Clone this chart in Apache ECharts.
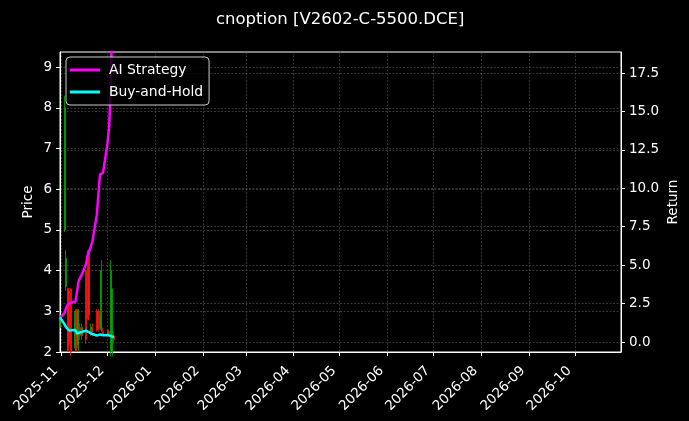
<!DOCTYPE html>
<html>
<head>
<meta charset="utf-8">
<script src="https://cdn.jsdelivr.net/npm/echarts@6/dist/echarts.min.js"></script>
<style>
  html, body { margin: 0; padding: 0; background: #000; }
  #chart { width: 689px; height: 421px; }
</style>
</head>
<body>
<div id="chart"></div>
<script>
// trading days shown on the chart
const dates = [
  '2025-10-31', '2025-11-03', '2025-11-04', '2025-11-05', '2025-11-06', '2025-11-07',
  '2025-11-10', '2025-11-11', '2025-11-12', '2025-11-13', '2025-11-14',
  '2025-11-17', '2025-11-18', '2025-11-19', '2025-11-20', '2025-11-21',
  '2025-11-24', '2025-11-25', '2025-11-26', '2025-11-27', '2025-11-28',
  '2025-12-01', '2025-12-02', '2025-12-03', '2025-12-04', '2025-12-05'
];
// option price candles
const openPrice  = [2.6, 5.0, 3.6, 3.55, 3.5, 3.55, 2.1, 3.05, 2.2, 2.6, 2.4, 4.0, 4.3, 4.5, 2.5, 2.6, 3.0, 3.0, 2.9, 2.55, 2.5, 2.45, 2.5, 2.0, 2.0, 2.4];
const closePrice = [2.9, 8.0, 4.3, 2.1, 2.2, 2.0, 3.0, 2.1, 3.0, 2.4, 2.6, 2.3, 2.8, 2.9, 2.6, 2.5, 2.55, 2.55, 2.6, 4.0, 2.45, 2.5, 2.45, 4.0, 3.55, 2.3];
const lowPrice   = [2.5, 4.95, 3.5, 2.0, 2.0, 1.9, 2.0, 2.0, 2.0, 2.3, 2.3, 2.2, 2.8, 2.8, 2.4, 2.4, 2.5, 2.5, 2.55, 2.5, 2.4, 2.4, 2.4, 1.9, 1.9, 2.2];
const highPrice  = [3.0, 8.3, 4.5, 3.57, 3.57, 3.57, 3.05, 3.05, 3.05, 2.7, 2.7, 4.0, 4.5, 4.5, 2.7, 2.7, 3.05, 3.05, 3.0, 4.26, 2.6, 2.55, 2.55, 4.26, 3.55, 2.5];
// cumulative returns
const aiStrategy = [1.55, 1.9, 2.2, 2.45, 2.5, 2.55, 2.62, 3.2, 3.9, 4.15, 4.35, 5.1, 5.65, 5.9, 6.0, 6.5, 8.3, 9.6, 10.9, 10.9, 11.0, 13.0, 14.0, 16.5, 21.0, 23.0];
const buyHold    = [1.6, 1.15, 0.95, 0.85, 0.75, 0.72, 0.78, 0.55, 0.6, 0.62, 0.66, 0.74, 0.7, 0.62, 0.6, 0.52, 0.42, 0.47, 0.5, 0.48, 0.44, 0.46, 0.44, 0.4, 0.36, 0.31];
// axis ticks
const monthTicks = ['2025-11', '2025-12', '2026-01', '2026-02', '2026-03', '2026-04',
  '2026-05', '2026-06', '2026-07', '2026-08', '2026-09', '2026-10'];
const priceTicks = [2, 3, 4, 5, 6, 7, 8, 9];
const returnTicks = [0, 2.5, 5, 7.5, 10, 12.5, 15, 17.5];

const FONT = 'DejaVu Sans';
const toTime = s => {
  const p = s.split('-').map(Number);
  return new Date(p[0], p[1] - 1, p[2] || 1).getTime();
};
const monthValues = monthTicks.map(toTime);
const gridLine = { show: true, lineStyle: { color: '#5a5a5a', width: 0.6, type: [2, 1.5] } };

const chart = echarts.init(document.getElementById('chart'));
chart.setOption({
  backgroundColor: '#000',
  animation: false,
  title: {
    text: 'cnoption [V2602-C-5500.DCE]',
    left: 211,
    top: 6,
    textStyle: { color: '#fff', fontFamily: FONT, fontSize: 16.5, fontWeight: 'normal' }
  },
  legend: {
    orient: 'vertical',
    left: 66,
    top: 57,
    padding: [6, 6, 6, 4],
    itemGap: 8,
    itemWidth: 30,
    itemHeight: 3,
    backgroundColor: 'rgba(0,0,0,0.8)',
    borderColor: '#cccccc',
    borderWidth: 1,
    borderRadius: 4,
    data: [
      { name: 'AI Strategy', icon: 'rect' },
      { name: 'Buy-and-Hold', icon: 'rect' }
    ],
    textStyle: { color: '#fff', fontFamily: FONT, fontSize: 13.9, padding: [0, 0, 0, 4] }
  },
  grid: {
    left: 60,
    right: 68,
    top: 52,
    bottom: 69,
    outerBoundsMode: 'none',
    show: true,
    borderColor: '#fff',
    borderWidth: 1
  },
  xAxis: {
    type: 'value',
    min: toTime('2025-10-31'),
    max: toTime('2026-10-31'),
    axisLine: { show: true, onZero: false, lineStyle: { color: '#fff' } },
    axisTick: { show: true, length: 4, lineStyle: { color: '#fff' }, customValues: monthValues },
    axisLabel: {
      color: '#fff',
      fontFamily: FONT,
      fontSize: 13.5,
      rotate: 45,
      margin: 11,
      padding: [0, 8, 0, 0],
      customValues: monthValues,
      formatter: v => {
        const d = new Date(v);
        return d.getFullYear() + '-' + String(d.getMonth() + 1).padStart(2, '0');
      }
    },
    splitLine: gridLine
  },
  yAxis: [
    {
      type: 'value',
      min: 2,
      max: 9.37,
      name: 'Price',
      nameLocation: 'middle',
      nameGap: 25,
      nameMoveOverlap: false,
      nameTextStyle: { color: '#fff', fontFamily: FONT, fontSize: 13.5 },
      axisLine: { show: true, lineStyle: { color: '#fff' } },
      axisTick: { show: true, length: 4, lineStyle: { color: '#fff' }, customValues: priceTicks },
      axisLabel: { color: '#fff', fontFamily: FONT, fontSize: 13.5, margin: 8, customValues: priceTicks },
      splitLine: gridLine
    },
    {
      type: 'value',
      min: -0.65,
      max: 18.87,
      name: 'Return',
      nameLocation: 'middle',
      nameGap: 45,
      nameMoveOverlap: false,
      nameTextStyle: { color: '#fff', fontFamily: FONT, fontSize: 13.5 },
      axisLine: { show: true, lineStyle: { color: '#fff' } },
      axisTick: { show: true, length: 4, lineStyle: { color: '#fff' }, customValues: returnTicks },
      axisLabel: {
        color: '#fff', fontFamily: FONT, fontSize: 13.5, margin: 8,
        customValues: returnTicks,
        formatter: v => v.toFixed(1)
      },
      splitLine: gridLine
    }
  ],
  series: [
    {
      name: 'Price',
      type: 'candlestick',
      yAxisIndex: 0,
      barWidth: 1.5,
      encode: { x: 0, y: [1, 2, 3, 4] },
      data: dates.map((d, i) => [toTime(d), openPrice[i], closePrice[i], lowPrice[i], highPrice[i]]),
      itemStyle: {
        color: 'rgba(0,170,0,0.8)',
        color0: 'rgba(255,20,20,0.8)',
        borderColor: 'rgba(0,170,0,0.8)',
        borderColor0: 'rgba(255,20,20,0.8)',
        borderWidth: 1
      }
    },
    {
      name: 'AI Strategy',
      type: 'line',
      yAxisIndex: 1,
      showSymbol: false,
      clip: true,
      data: dates.map((d, i) => [toTime(d), aiStrategy[i]]),
      lineStyle: { color: '#ff00ff', width: 2.5 },
      itemStyle: { color: '#ff00ff' }
    },
    {
      name: 'Buy-and-Hold',
      type: 'line',
      yAxisIndex: 1,
      showSymbol: false,
      clip: true,
      data: dates.map((d, i) => [toTime(d), buyHold[i]]),
      lineStyle: { color: '#00ffff', width: 2.5 },
      itemStyle: { color: '#00ffff' }
    }
  ]
});
</script>
</body>
</html>
